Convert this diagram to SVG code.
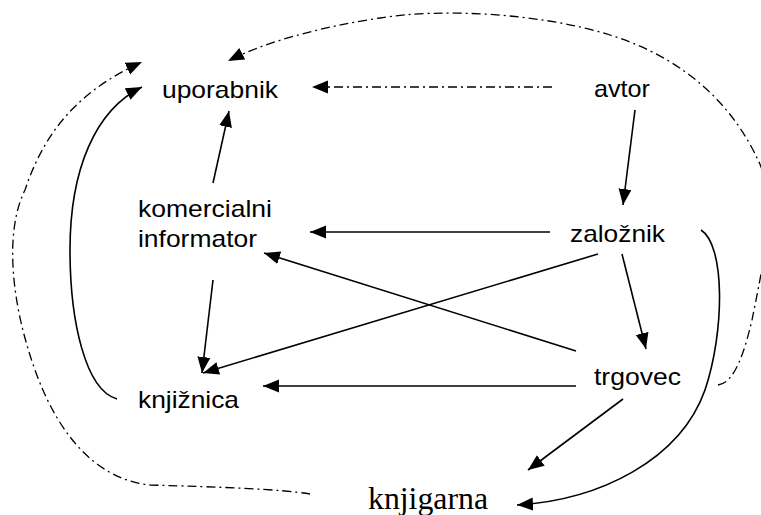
<svg xmlns="http://www.w3.org/2000/svg" width="761" height="515" viewBox="0 0 761 515">
<style>
.lbl{font-family:"Liberation Sans",Arial,sans-serif;font-size:24px;fill:#000}
.ser{font-family:"Liberation Serif","Times New Roman",serif;font-size:31px;fill:#000}
.c{fill:none;stroke:#000;stroke-width:1.6}
.d{fill:none;stroke:#000;stroke-width:1.3;stroke-dasharray:9 4 2 4}
</style>
<defs>
<marker id="ah" markerUnits="userSpaceOnUse" markerWidth="18" markerHeight="14" refX="16" refY="6.5" orient="auto">
<path d="M0,0 L16,6.5 L0,13 z" fill="#000"/>
</marker>
</defs>
<g id="connectors">
<path class="d" d="M718,385 C735,383 745,350 752,320 C762,270 778,200 758,160 C735,110 690,60 610,35 C540,13 440,8 380,18 C320,27 265,42 228,61" marker-end="url(#ah)"/>
<path class="d" d="M310,494 C280,489 220,487 150,485 C100,480 60,440 35,370 C10,300 5,230 25,190 C45,130 80,90 142,62" marker-end="url(#ah)"/>
<path class="d" d="M552,87 L312,87" marker-end="url(#ah)"/>
<path class="c" d="M117,399 C85,390 70,320 70,250 C70,170 95,110 142,87" marker-end="url(#ah)"/>
<path class="c" d="M701,230 C725,245 725,330 705,390 C680,460 600,500 517,505" marker-end="url(#ah)"/>
<path class="c" d="M213,183 L229,111" marker-end="url(#ah)"/>
<path class="c" d="M635,110 L623,205" marker-end="url(#ah)"/>
<path class="c" d="M550,232 L310,232" marker-end="url(#ah)"/>
<path class="c" d="M576,351 L264,253" marker-end="url(#ah)"/>
<path class="c" d="M598,254 L203,373" marker-end="url(#ah)"/>
<path class="c" d="M213,280 L202,373" marker-end="url(#ah)"/>
<path class="c" d="M576,386 L263,386" marker-end="url(#ah)"/>
<path class="c" d="M622,254 L646,349" marker-end="url(#ah)"/>
<path class="c" d="M623,399 L528,470" marker-end="url(#ah)"/>
</g>
<g id="uporabnik"><text class="lbl" x="162" y="98" textLength="116" lengthAdjust="spacingAndGlyphs">uporabnik</text></g>
<g id="avtor"><text class="lbl" x="594" y="97" textLength="56" lengthAdjust="spacingAndGlyphs">avtor</text></g>
<g id="komercialni-informator">
<text class="lbl" x="138" y="217" textLength="134" lengthAdjust="spacingAndGlyphs">komercialni</text>
<text class="lbl" x="138" y="247" textLength="119" lengthAdjust="spacingAndGlyphs">informator</text>
</g>
<g id="zaloznik"><text class="lbl" x="570" y="242" textLength="95" lengthAdjust="spacingAndGlyphs">založnik</text></g>
<g id="trgovec"><text class="lbl" x="594" y="385" textLength="87" lengthAdjust="spacingAndGlyphs">trgovec</text></g>
<g id="knjiznica"><text class="lbl" x="138" y="408" textLength="101" lengthAdjust="spacingAndGlyphs">knjižnica</text></g>
<g id="knjigarna"><text class="ser" x="368" y="509" textLength="120" lengthAdjust="spacingAndGlyphs">knjigarna</text></g>
</svg>
